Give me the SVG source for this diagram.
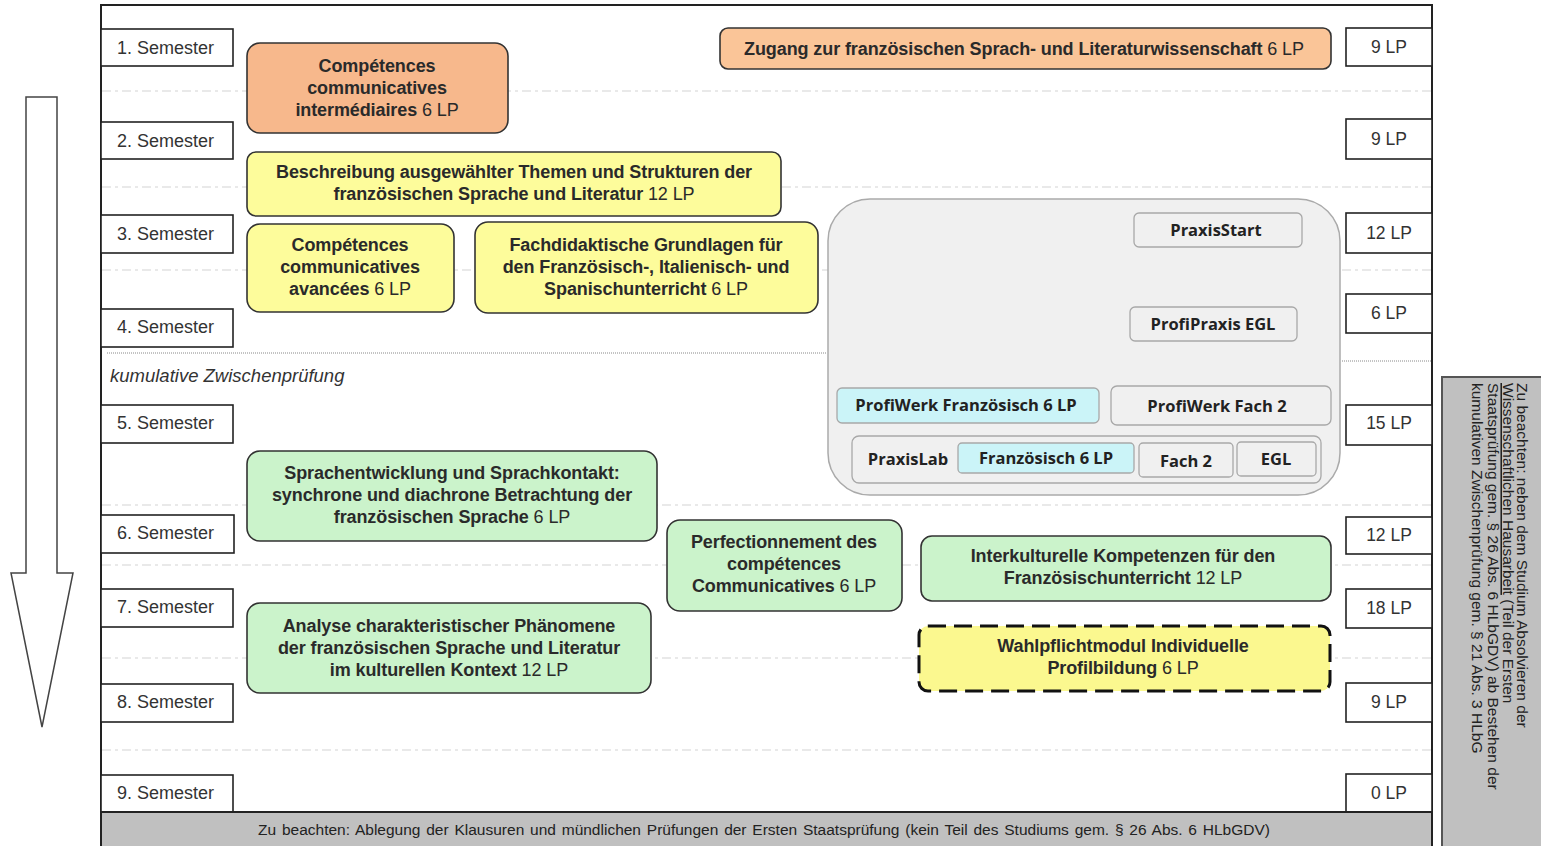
<svg xmlns="http://www.w3.org/2000/svg" width="1541" height="846" viewBox="0 0 1541 846">
<style>
.bg{fill:#ffffff}
.sem{fill:#ffffff;stroke:#222;stroke-width:1.6}
.semt{font-family:"Liberation Sans",Arial,sans-serif;font-size:18px;fill:#333}
.lpt{font-family:"Liberation Sans",Arial,sans-serif;font-size:17.5px;fill:#333;text-anchor:middle}
.guide{stroke:#d4d4d4;stroke-width:1.2;stroke-dasharray:9 4 3 4;fill:none}
.dot{stroke:#888;stroke-width:1;stroke-dasharray:1 1;fill:none}
.mod{stroke:#333;stroke-width:1.6}
.mt{font-family:"Liberation Sans",Arial,sans-serif;font-size:18px;font-weight:bold;fill:#2a2a2a;text-anchor:middle;letter-spacing:-0.1px}
.mt tspan.n{font-weight:normal}
.orange1{fill:#f7b88c}
.orange2{fill:#fac598}
.yellow{fill:#fdfc9b}
.green{fill:#cbf3cb}
.pr{fill:#f0f0f0;stroke:#a8a8a8;stroke-width:1.3}
.pr.cyan{fill:#cbf4f8}
.pt{font-family:"Open Sans","Noto Sans",sans-serif;font-size:16.5px;font-weight:bold;fill:#222;text-anchor:middle}
.note{font-family:"Liberation Sans",Arial,sans-serif;font-size:15.5px;fill:#222}
</style>
<rect x="0" y="0" width="1541" height="846" class="bg"/>

<g id="frame">
<rect x="101" y="5" width="1331" height="850" fill="#ffffff" stroke="#222" stroke-width="2"/>
<line class="guide" x1="102" y1="91" x2="1431" y2="91"/>
<line class="guide" x1="102" y1="187" x2="1431" y2="187"/>
<line class="guide" x1="102" y1="270" x2="1431" y2="270"/>
<line class="guide" x1="102" y1="505" x2="1431" y2="505"/>
<line class="guide" x1="102" y1="565" x2="1431" y2="565"/>
<line class="guide" x1="102" y1="658" x2="1431" y2="658"/>
<line class="guide" x1="102" y1="750" x2="1431" y2="750"/>
<line class="dot" x1="107" y1="353" x2="827" y2="353"/>
<line class="dot" x1="1342" y1="361" x2="1431" y2="361"/>
<text x="110" y="382" font-family="Liberation Sans,Arial,sans-serif" font-size="18.5" font-style="italic" fill="#333">kumulative Zwischenprüfung</text>
</g>

<g id="arrow">
<polygon points="26,97 57,97 57,573 73,573 42,727 11,573 26,573" fill="#ffffff" stroke="#444" stroke-width="1.5"/>
</g>

<g id="semesters">
<rect class="sem" x="101" y="29" width="132" height="37"/><text class="semt" x="117" y="54">1. Semester</text>
<rect class="sem" x="101" y="122" width="132" height="37"/><text class="semt" x="117" y="147">2. Semester</text>
<rect class="sem" x="101" y="215" width="132" height="38"/><text class="semt" x="117" y="240">3. Semester</text>
<rect class="sem" x="101" y="309" width="132" height="38"/><text class="semt" x="117" y="333">4. Semester</text>
<rect class="sem" x="101" y="405" width="132" height="38"/><text class="semt" x="117" y="429">5. Semester</text>
<rect class="sem" x="101" y="515" width="133" height="38"/><text class="semt" x="117" y="539">6. Semester</text>
<rect class="sem" x="101" y="589" width="132" height="38"/><text class="semt" x="117" y="613">7. Semester</text>
<rect class="sem" x="101" y="684" width="132" height="38"/><text class="semt" x="117" y="708">8. Semester</text>
<rect class="sem" x="101" y="775" width="132" height="37"/><text class="semt" x="117" y="799">9. Semester</text>
</g>

<g id="lp">
<rect class="sem" x="1346" y="28" width="86" height="38"/><text class="lpt" x="1389" y="53">9 LP</text>
<rect class="sem" x="1346" y="119" width="86" height="40"/><text class="lpt" x="1389" y="145">9 LP</text>
<rect class="sem" x="1346" y="213" width="86" height="40"/><text class="lpt" x="1389" y="239">12 LP</text>
<rect class="sem" x="1346" y="294" width="86" height="39"/><text class="lpt" x="1389" y="319">6 LP</text>
<rect class="sem" x="1346" y="405" width="86" height="40"/><text class="lpt" x="1389" y="429">15 LP</text>
<rect class="sem" x="1346" y="517" width="86" height="37"/><text class="lpt" x="1389" y="541">12 LP</text>
<rect class="sem" x="1346" y="589" width="86" height="39"/><text class="lpt" x="1389" y="614">18 LP</text>
<rect class="sem" x="1346" y="683" width="86" height="39"/><text class="lpt" x="1389" y="708">9 LP</text>
<rect class="sem" x="1346" y="774" width="86" height="38"/><text class="lpt" x="1389" y="799">0 LP</text>
</g>

<g id="m-intermediaires">
<rect class="mod orange1" x="247" y="43" width="261" height="90" rx="13"/>
<text class="mt" x="377" y="72">Compétences</text>
<text class="mt" x="377" y="94">communicatives</text>
<text class="mt" x="377" y="116">intermédiaires<tspan class="n"> 6 LP</tspan></text>
</g>

<g id="m-zugang">
<rect class="mod orange2" x="720" y="28" width="611" height="41" rx="8"/>
<text class="mt" x="1024" y="55">Zugang zur französischen Sprach- und Literaturwissenschaft<tspan class="n"> 6 LP</tspan></text>
</g>

<g id="m-beschreibung">
<rect class="mod yellow" x="247" y="152" width="534" height="64" rx="9"/>
<text class="mt" x="514" y="178">Beschreibung ausgewählter Themen und Strukturen der</text>
<text class="mt" x="514" y="200">französischen Sprache und Literatur<tspan class="n"> 12 LP</tspan></text>
</g>

<g id="m-avancees">
<rect class="mod yellow" x="247" y="224" width="207" height="88" rx="13"/>
<text class="mt" x="350" y="251">Compétences</text>
<text class="mt" x="350" y="273">communicatives</text>
<text class="mt" x="350" y="295">avancées<tspan class="n"> 6 LP</tspan></text>
</g>

<g id="m-fachdidaktik">
<rect class="mod yellow" x="475" y="222" width="343" height="91" rx="13"/>
<text class="mt" x="646" y="251">Fachdidaktische Grundlagen für</text>
<text class="mt" x="646" y="273">den Französisch-, Italienisch- und</text>
<text class="mt" x="646" y="295">Spanischunterricht<tspan class="n"> 6 LP</tspan></text>
</g>

<g id="praxis">
<rect x="828" y="199" width="512" height="296" rx="42" fill="#f0f0f0" stroke="#aaa" stroke-width="1.5"/>
<g id="praxisstart"><rect class="pr" x="1134" y="213" width="168" height="34" rx="5"/><text class="pt" x="1216" y="236">PraxisStart</text></g>
<g id="profipraxis"><rect class="pr" x="1130" y="307" width="167" height="34" rx="5"/><text class="pt" x="1213" y="330">ProfiPraxis EGL</text></g>
<g id="profiwerk-fr"><rect class="pr cyan" x="837" y="388" width="262" height="35" rx="5"/><text class="pt" x="966" y="411">ProfiWerk Französisch 6 LP</text></g>
<g id="profiwerk-f2"><rect class="pr" x="1111" y="386" width="220" height="39" rx="6"/><text class="pt" x="1217" y="412">ProfiWerk Fach 2</text></g>
<g id="praxislab"><rect class="pr" x="852" y="436" width="469" height="47" rx="7"/><text class="pt" x="908" y="465">PraxisLab</text></g>
<g id="praxislab-fr"><rect class="pr cyan" x="958" y="443" width="176" height="30" rx="4"/><text class="pt" x="1046" y="464">Französisch 6 LP</text></g>
<g id="praxislab-f2"><rect class="pr" x="1139" y="443" width="94" height="34" rx="4"/><text class="pt" x="1186" y="467">Fach 2</text></g>
<g id="praxislab-egl"><rect class="pr" x="1237" y="442" width="79" height="34" rx="4"/><text class="pt" x="1276" y="465">EGL</text></g>
</g>

<g id="m-sprachentwicklung">
<rect class="mod green" x="247" y="451" width="410" height="90" rx="13"/>
<text class="mt" x="452" y="479">Sprachentwicklung und Sprachkontakt:</text>
<text class="mt" x="452" y="501">synchrone und diachrone Betrachtung der</text>
<text class="mt" x="452" y="523">französischen Sprache<tspan class="n"> 6 LP</tspan></text>
</g>

<g id="m-perfectionnement">
<rect class="mod green" x="667" y="520" width="235" height="91" rx="13"/>
<text class="mt" x="784" y="548">Perfectionnement des</text>
<text class="mt" x="784" y="570">compétences</text>
<text class="mt" x="784" y="592">Communicatives<tspan class="n"> 6 LP</tspan></text>
</g>

<g id="m-interkulturell">
<rect class="mod green" x="921" y="536" width="410" height="65" rx="11"/>
<text class="mt" x="1123" y="562">Interkulturelle Kompetenzen für den</text>
<text class="mt" x="1123" y="584">Französischunterricht<tspan class="n"> 12 LP</tspan></text>
</g>

<g id="m-analyse">
<rect class="mod green" x="247" y="603" width="404" height="90" rx="13"/>
<text class="mt" x="449" y="632">Analyse charakteristischer Phänomene</text>
<text class="mt" x="449" y="654">der französischen Sprache und Literatur</text>
<text class="mt" x="449" y="676">im kulturellen Kontext<tspan class="n"> 12 LP</tspan></text>
</g>

<g id="m-wahlpflicht">
<rect x="919" y="626" width="411" height="65" rx="9" fill="#fbf88f" stroke="#111" stroke-width="3" stroke-dasharray="18 8"/>
<text class="mt" x="1123" y="652">Wahlpflichtmodul Individuelle</text>
<text class="mt" x="1123" y="674">Profilbildung<tspan class="n"> 6 LP</tspan></text>
</g>

<g id="bottom-note">
<rect x="101" y="812" width="1331" height="40" fill="#c0c0c0" stroke="#222" stroke-width="2"/>
<text x="764" y="835" font-family="Liberation Sans,Arial,sans-serif" font-size="15.5" word-spacing="1.5" fill="#222" text-anchor="middle">Zu beachten: Ablegung der Klausuren und mündlichen Prüfungen der Ersten Staatsprüfung (kein Teil des Studiums gem. § 26 Abs. 6 HLbGDV)</text>
</g>

<g id="side-note">
<rect x="1442" y="377" width="110" height="480" fill="#c0c0c0" stroke="#555" stroke-width="2"/>
<text class="note" transform="translate(1517,383) rotate(90)">Zu beachten: neben dem Studium Absolvieren der</text>
<text class="note" transform="translate(1503,383) rotate(90)"><tspan text-decoration="underline">Wissenschaftlichen Hausarbeit</tspan> (Teil der Ersten</text>
<text class="note" transform="translate(1488,383) rotate(90)">Staatsprüfung gem. § 26 Abs. 6 HLbGDV) ab Bestehen der</text>
<text class="note" transform="translate(1472,383) rotate(90)">kumulativen Zwischenprüfung gem. § 21 Abs. 3 HLbG</text>
</g>
</svg>
